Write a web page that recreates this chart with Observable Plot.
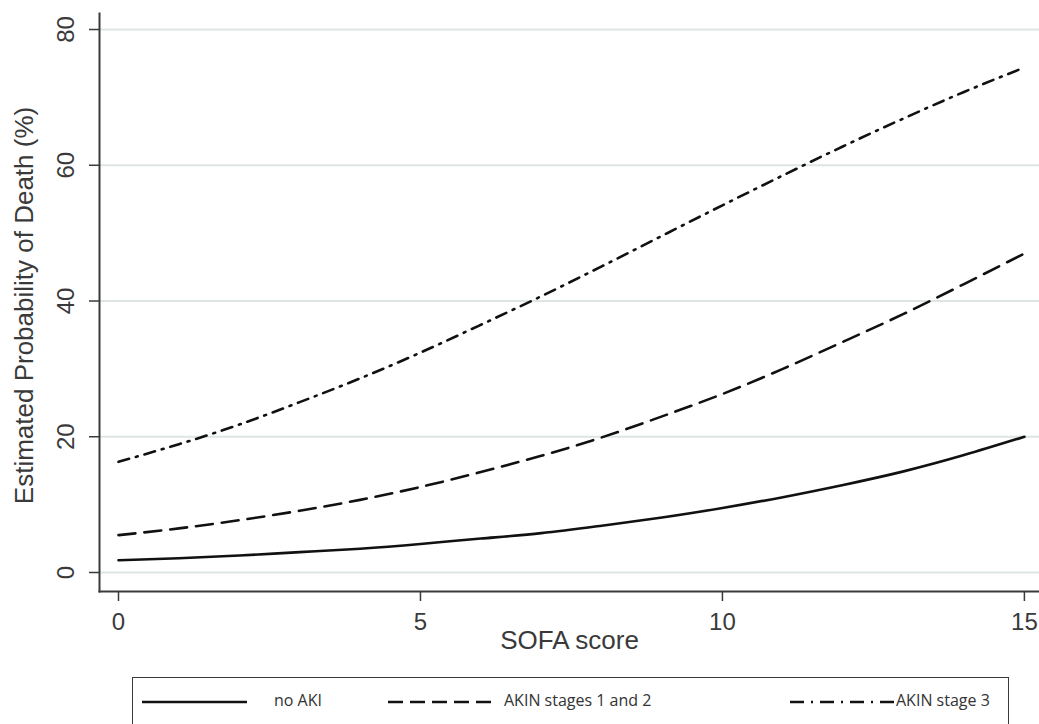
<!DOCTYPE html>
<html><head><meta charset="utf-8">
<script src="https://cdn.jsdelivr.net/npm/d3@7"></script>
<script src="https://cdn.jsdelivr.net/npm/@observablehq/plot@0.6"></script>
<style>
body{margin:0;background:#fff;}
#chart{position:absolute;left:0;top:0;}
#legend{position:absolute;left:132px;top:677px;width:877px;height:64px;border:1.5px solid #3a3a3a;box-sizing:border-box;background:#fff;}
</style></head><body>
<div id="chart"></div><div id="legend"></div>
<script>
// SOFA score (x) and estimated probability of death (%) per group
const sofa   = [0,1,2,3,4,5,6,7,8,9,10,11,12,13,14,15];
const noAKI  = [1.8,2.1,2.5,3.0,3.5,4.2,5.0,5.8,6.9,8.1,9.5,11.1,12.9,14.9,17.3,20.0];
const akin12 = [5.5,6.5,7.7,9.1,10.7,12.6,14.8,17.2,19.9,23.0,26.3,30.0,34.0,38.1,42.5,47.0];
const akin3  = [16.3,18.9,21.8,25.1,28.6,32.4,36.5,40.7,45.1,49.6,54.1,58.5,62.8,66.9,70.8,74.4];
const seriesNames = ["no AKI","AKIN stages 1 and 2","AKIN stage 3"];
const yTicks = [0,20,40,60,80];
const xTicks = [0,5,10,15];
const xTitle = "SOFA score";
const yTitle = "Estimated Probability of Death (%)";

const seriesValues = [noAKI, akin12, akin3];
const dashes = [null, "17,9", "11,7,2,7"];
const rows = seriesNames.flatMap((s, k) => sofa.map((x, i) => ({x, y: seriesValues[k][i], s})));

const font = "'Liberation Sans', Arial, sans-serif";
const ink = "#3a3a3a";

const chart = Plot.plot({
  width: 1039,
  height: 665,
  marginLeft: 99,
  marginRight: 0,
  marginTop: 13,
  marginBottom: 74,
  style: {fontFamily: font, background: "#fff", color: ink},
  x: {domain: [-0.3146, 15.25], ticks: xTicks},
  y: {domain: [-2.8, 82.36], ticks: yTicks},
  marks: [
    Plot.gridY(yTicks, {stroke: "#dfe5e5", strokeOpacity: 1, strokeWidth: 2}),
    Plot.axisY(yTicks, {tickSize: 10, tickFormat: () => "", label: null, stroke: ink, strokeWidth: 1.5}),
    Plot.text(yTicks, {y: d => d, frameAnchor: "left", textAnchor: "middle", dx: -33, rotate: -90, text: d => String(d), fontSize: 24, fill: ink}),
    Plot.axisX(xTicks, {tickSize: 10, tickPadding: 11, fontSize: 24, label: null, stroke: ink, strokeWidth: 1.5, fill: ink}),
    Plot.frame({anchor: "left", stroke: ink, strokeWidth: 2}),
    Plot.frame({anchor: "bottom", stroke: ink, strokeWidth: 2}),
    ...seriesNames.map((s, k) => Plot.line(rows.filter(r => r.s === s), {
      x: "x", y: "y", curve: "natural", stroke: "#111", strokeWidth: 2.6,
      strokeDasharray: dashes[k] || undefined
    })),
    Plot.text([xTitle], {frameAnchor: "bottom", dy: 57, fontSize: 26, fill: ink}),
    Plot.text([yTitle], {frameAnchor: "left", textAnchor: "middle", dx: -75, dy: 3, rotate: -90, fontSize: 26, fill: ink})
  ]
});
document.getElementById("chart").appendChild(chart);

// Legend (HTML box below the plot SVG)
const ns = "http://www.w3.org/2000/svg";
const lg = document.createElementNS(ns, "svg");
lg.setAttribute("width", 874); lg.setAttribute("height", 60);
const items = [
  {sx: 9, tx: 141},
  {sx: 255, tx: 371},
  {sx: 657, tx: 763}
];
seriesNames.forEach((s, k) => {
  const l = document.createElementNS(ns, "line");
  l.setAttribute("x1", items[k].sx); l.setAttribute("x2", items[k].sx + 105);
  l.setAttribute("y1", 24); l.setAttribute("y2", 24);
  l.setAttribute("stroke", "#111"); l.setAttribute("stroke-width", 2.6);
  if (dashes[k]) l.setAttribute("stroke-dasharray", k === 1 ? "15,7" : "14,7,2,7");
  lg.appendChild(l);
  const t = document.createElementNS(ns, "text");
  t.setAttribute("x", items[k].tx); t.setAttribute("y", 24);
  t.setAttribute("dominant-baseline", "middle");
  t.setAttribute("font-family", "'Open Sans', 'Noto Sans', sans-serif");
  t.setAttribute("font-size", 16); t.setAttribute("fill", "#333");
  t.textContent = s;
  lg.appendChild(t);
});
document.getElementById("legend").appendChild(lg);
</script>
</body></html>
